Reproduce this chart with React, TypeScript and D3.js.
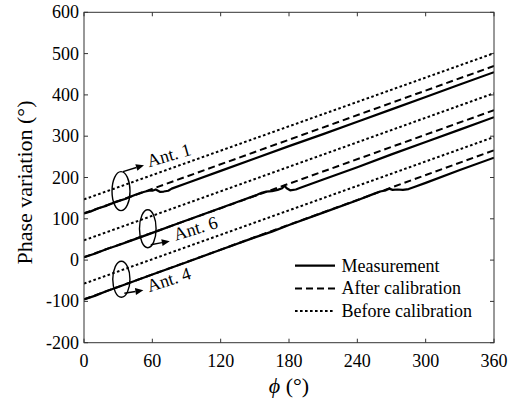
import React from "react";
import * as d3 from "d3";

// ---- data ----
const xTicks = [0, 60, 120, 180, 240, 300, 360];
const yTicks = [-200, -100, 0, 100, 200, 300, 400, 500, 600];

// Ant. 1
const ant1Meas: [number, number][] = [
  [0, 113], [6, 118], [12, 125], [20, 132], [28, 141], [36, 148], [44, 157], [50, 163],
  [54, 166], [57, 168], [60, 168], [63, 171], [65, 168], [67, 165], [70, 166], [74, 168],
  [77, 173], [90, 186], [120, 216], [150, 246], [180, 276], [210, 305], [240, 335],
  [270, 365], [300, 395], [330, 425], [360, 455],
];
const ant1After: [number, number][] = [[0, 113], [360, 470]];
const ant1Before: [number, number][] = [[0, 147], [360, 501]];

// Ant. 6
const ant6Meas: [number, number][] = [
  [0, 7], [10, 16], [20, 27], [30, 36], [40, 46], [60, 66], [80, 86], [100, 106],
  [120, 126], [140, 146], [152, 158], [156, 163], [160, 166], [165, 167], [170, 170],
  [174, 174], [176, 180], [178, 174], [181, 169], [186, 171], [190, 175], [210, 195],
  [240, 225], [270, 256], [300, 286], [330, 316], [360, 346],
];
const ant6After: [number, number][] = [[0, 7], [360, 363]];
const ant6Before: [number, number][] = [[0, 48], [360, 404]];

// Ant. 4
const ant4Meas: [number, number][] = [
  [0, -95], [10, -86], [20, -75], [30, -65], [45, -50], [60, -35], [90, -5], [120, 25],
  [150, 55], [165, 69], [180, 85], [210, 115], [240, 145], [255, 161], [260, 166],
  [265, 169], [268, 173], [271, 170], [275, 171], [280, 170], [285, 172], [290, 177],
  [300, 187], [330, 218], [360, 248],
];
const ant4After: [number, number][] = [[0, -95], [360, 266]];
const ant4Before: [number, number][] = [[0, -57], [360, 298]];

const antLabels = ["Ant. 1", "Ant. 6", "Ant. 4"];
// annotation anchors (phi, phase) for ellipses
const antAnchors: [number, number][] = [[32.5, 167], [56, 76], [32.8, -46.5]];
const legendLabels = ["Measurement", "After calibration", "Before calibration"];

// ---- layout ----
const W = 521, H = 403;
const left = 84, right = 494, top = 12.3, bottom = 342.7;
const FONT = '"Liberation Serif", "Times New Roman", serif';

const x = d3.scaleLinear().domain([0, 360]).range([left, right]);
const y = d3.scaleLinear().domain([-200, 600]).range([bottom, top]);
const line = d3.line<[number, number]>().x(d => x(d[0])).y(d => y(d[1]));

const styles = {
  meas: { strokeWidth: 2.2, dash: undefined as string | undefined },
  after: { strokeWidth: 2, dash: "7,4" },
  before: { strokeWidth: 2, dash: "2.6,2.4" },
};

export default function App() {
  const series = [
    { d: ant1Before, s: styles.before }, { d: ant1After, s: styles.after }, { d: ant1Meas, s: styles.meas },
    { d: ant6Before, s: styles.before }, { d: ant6After, s: styles.after }, { d: ant6Meas, s: styles.meas },
    { d: ant4Before, s: styles.before }, { d: ant4After, s: styles.after }, { d: ant4Meas, s: styles.meas },
  ];
  // arrow definitions relative to ellipse centers (px)
  const ann = [
    { rx: 9, ry: 19.5, a0: [2, -19.5], a1: [23, -26], tx: [28, -24], rot: -16, down: false },
    { rx: 8.3, ry: 19, a0: [3, 16], a1: [22, 12.5], tx: [28, 12], rot: -17, down: true },
    { rx: 8.6, ry: 18, a0: [3, 14], a1: [22, 11], tx: [28, 13], rot: -18, down: true },
  ];
  const legendItems = [styles.meas, styles.after, styles.before];
  return (
    <svg width={W} height={H} style={{ position: "absolute", left: 0, top: 0, background: "#fff" }}
      fontFamily={FONT}>
      <rect x={0} y={0} width={W} height={H} fill="#fff" />
      <defs>
        <clipPath id="plot"><rect x={left} y={top} width={right - left} height={bottom - top} /></clipPath>
      </defs>
      <g clipPath="url(#plot)">
        {series.map((sr, i) => (
          <path key={i} d={line(sr.d) || ""} fill="none" stroke="#000" strokeWidth={sr.s.strokeWidth}
            strokeDasharray={sr.s.dash} strokeLinejoin="round" />
        ))}
      </g>
      {/* annotations */}
      {antAnchors.map((a, i) => {
        const cx = x(a[0]), cy = y(a[1]);
        const o = ann[i];
        const x0 = cx + o.a0[0], y0 = cy + o.a0[1];
        const x1 = cx + o.a1[0], y1 = cy + o.a1[1];
        const ang = Math.atan2(y1 - y0, x1 - x0);
        const hl = 8, hw = 3.5;
        const bx = x1 - hl * Math.cos(ang), by = y1 - hl * Math.sin(ang);
        const px = -Math.sin(ang) * hw, py = Math.cos(ang) * hw;
        return (
          <g key={i}>
            <ellipse cx={cx} cy={cy} rx={o.rx} ry={o.ry} fill="none" stroke="#000" strokeWidth={1.4} />
            <line x1={x0} y1={y0} x2={bx} y2={by} stroke="#000" strokeWidth={1.4} />
            <path d={`M${x1},${y1}L${bx + px},${by + py}L${bx - px},${by - py}Z`} fill="#000" />
            <text x={cx + o.tx[0]} y={cy + o.tx[1]} fontSize={18}
              transform={`rotate(${o.rot},${cx + o.tx[0]},${cy + o.tx[1]})`}>{antLabels[i]}</text>
          </g>
        );
      })}
      {/* axes box */}
      <rect x={left} y={top} width={right - left} height={bottom - top} fill="none" stroke="#333" strokeWidth={1} />
      {xTicks.map(t => (
        <g key={"x" + t}>
          <line x1={x(t)} x2={x(t)} y1={bottom} y2={bottom - 4} stroke="#333" />
          <line x1={x(t)} x2={x(t)} y1={top} y2={top + 4} stroke="#333" />
          <text x={x(t)} y={366.5} fontSize={18} textAnchor="middle">{t}</text>
        </g>
      ))}
      {yTicks.map(t => (
        <g key={"y" + t}>
          <line x1={left} x2={left + 4} y1={y(t)} y2={y(t)} stroke="#333" />
          <line x1={right} x2={right - 4} y1={y(t)} y2={y(t)} stroke="#333" />
          <text x={79} y={y(t) + 6} fontSize={18} textAnchor="end">{t}</text>
        </g>
      ))}
      <text x={289} y={393} fontSize={22} textAnchor="middle">
        <tspan fontStyle="italic">ϕ</tspan> (°)
      </text>
      <text transform={`translate(32,${(top + bottom) / 2 + 5}) rotate(-90)`} fontSize={22} textAnchor="middle">
        Phase variation (°)
      </text>
      {/* legend */}
      {legendLabels.map((l, i) => {
        const ly = 265.7 + i * 22.7;
        return (
          <g key={l}>
            <line x1={295} x2={335} y1={ly} y2={ly} stroke="#000" strokeWidth={legendItems[i].strokeWidth}
              strokeDasharray={legendItems[i].dash} />
            <text x={341.5} y={ly + 6} fontSize={18}>{l}</text>
          </g>
        );
      })}
    </svg>
  );
}
